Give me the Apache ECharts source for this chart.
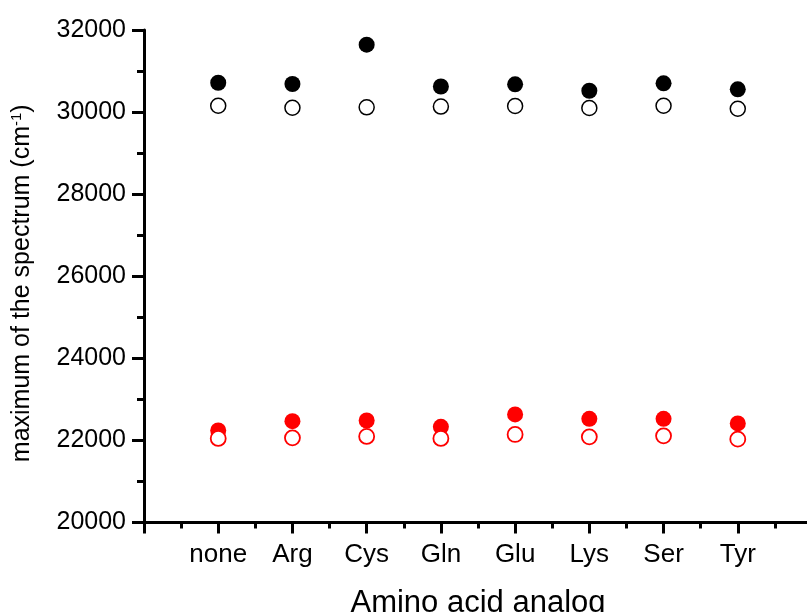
<!DOCTYPE html>
<html>
<head>
<meta charset="utf-8">
<script src="https://cdn.jsdelivr.net/npm/echarts@6/dist/echarts.min.js"></script>
<style>
  html, body { margin: 0; padding: 0; background: #fff; }
  #chart { width: 807px; height: 612px; }
</style>
</head>
<body>
<div id="chart"></div>
<script>
// Amino acid analogs along the x axis (positions 1..8)
const categories = ['none', 'Arg', 'Cys', 'Gln', 'Glu', 'Lys', 'Ser', 'Tyr'];

// Spectrum maxima (cm^-1)
const blackFilled = [30715, 30684, 31642, 30623, 30676, 30520, 30701, 30555];
const blackOpen   = [30155, 30106, 30116, 30135, 30148, 30099, 30155, 30082];
const redFilled   = [22243, 22469, 22486, 22330, 22633, 22525, 22525, 22413];
const redOpen     = [22048, 22062, 22097, 22048, 22145, 22087, 22111, 22031];

// Y axis ticks
const yMin = 20000, yMax = 32000, yStep = 2000;

const FONT = '"Liberation Sans", Arial, sans-serif';

function points(values) {
  return values.map((v, i) => [i + 1, v]);
}

function filledSeries(values, color) {
  return {
    type: 'scatter',
    data: points(values),
    symbol: 'circle',
    symbolSize: 16,
    itemStyle: { color: color, opacity: 1 },
    emphasis: { disabled: true },
    z: 2
  };
}

function openSeries(values, color, width) {
  return {
    type: 'scatter',
    data: points(values),
    symbol: 'circle',
    symbolSize: 15,
    itemStyle: { color: '#fff', borderColor: color, borderWidth: width, opacity: 1 },
    emphasis: { disabled: true },
    z: 3
  };
}

const chart = echarts.init(document.getElementById('chart'), null, { renderer: 'canvas' });

chart.setOption({
  animation: false,
  backgroundColor: '#fff',
  grid: { left: 144, right: -5, top: 30, bottom: 89.5, containLabel: false, outerBoundsMode: 'none' },
  xAxis: {
    type: 'value',
    min: 0,
    max: 9,
    interval: 1,
    name: 'Amino acid analog',
    nameLocation: 'middle',
    nameGap: 65,
    nameTextStyle: { fontFamily: FONT, fontSize: 31, color: '#000' },
    axisLine: { show: true, onZero: false, lineStyle: { color: '#000', width: 3 } },
    axisTick: { show: true, length: 11, lineStyle: { color: '#000', width: 3 } },
    minorTick: { show: true, splitNumber: 2, length: 6, lineStyle: { color: '#000', width: 3 } },
    splitLine: { show: false },
    minorSplitLine: { show: false },
    axisLabel: {
      fontFamily: FONT,
      fontSize: 26,
      color: '#000',
      margin: 19,
      formatter: function (v) {
        return (v >= 1 && v <= categories.length) ? categories[v - 1] : '';
      }
    }
  },
  yAxis: {
    type: 'value',
    min: yMin,
    max: yMax,
    interval: yStep,
    name: 'maximum of the spectrum (cm{sup|-1})',
    nameLocation: 'middle',
    nameRotate: 90,
    nameGap: 108,
    nameTextStyle: {
      fontFamily: FONT,
      fontSize: 25,
      color: '#000',
      padding: [0, 14, 0, 0],
      rich: {
        sup: { fontFamily: FONT, fontSize: 15, color: '#000', verticalAlign: 'top', padding: [0, 0, 12, 0] }
      }
    },
    axisLine: { show: true, onZero: false, lineStyle: { color: '#000', width: 3 } },
    axisTick: { show: true, length: 12, lineStyle: { color: '#000', width: 3 } },
    minorTick: { show: true, splitNumber: 2, length: 7, lineStyle: { color: '#000', width: 3 } },
    splitLine: { show: false },
    minorSplitLine: { show: false },
    axisLabel: {
      fontFamily: FONT,
      fontSize: 25,
      color: '#000',
      margin: 18,
      formatter: function (v) { return String(v); }
    }
  },
  series: [
    filledSeries(blackFilled, '#000000'),
    filledSeries(redFilled, '#ff0000'),
    openSeries(blackOpen, '#000000', 1.5),
    openSeries(redOpen, '#ff0000', 1.8)
  ]
});
</script>
</body>
</html>
